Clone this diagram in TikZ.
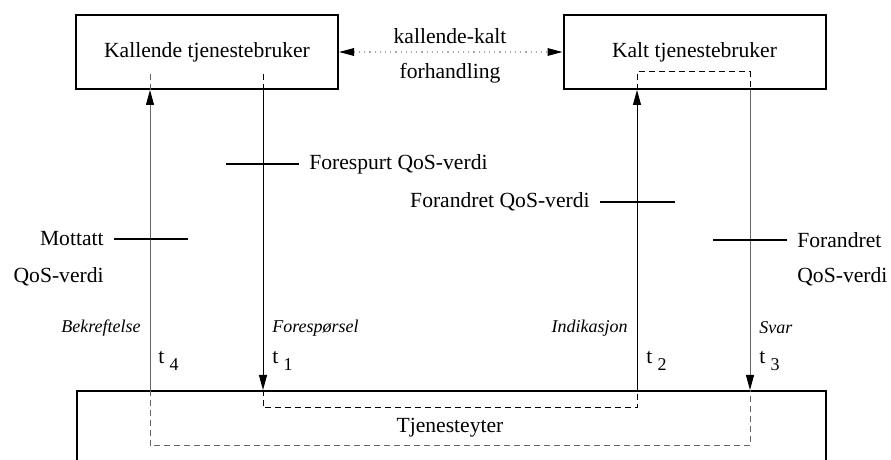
\documentclass[tikz,border=0pt]{standalone}
\usepackage{fontspec}
\setmainfont{Liberation Serif}
\usetikzlibrary{arrows.meta}
\begin{document}
\begin{tikzpicture}[x=0.5pt,y=-0.5pt,
  every node/.style={font=\fontsize{10.8}{13}\selectfont, inner sep=0pt},
  userbox/.style={draw, line width=1pt, minimum width=131pt, minimum height=37pt},
  prim/.style={line width=0.5pt},
  faint/.style={draw=black!60},
  tip/.style={-{Triangle[length=7.5pt,width=4pt,color=black,fill=black]}},
  dashline/.style={line width=0.5pt, dash pattern=on 3pt off 2pt},
  tick/.style={line width=1pt},
  prim label/.style={font=\fontsize{9}{11}\selectfont\itshape},
  tlabel/.style={anchor=west}
]
\newcommand{\tsub}[1]{t\hspace{2.6pt}\raisebox{-3.5pt}{\fontsize{9}{11}\selectfont #1}}
\useasboundingbox (0,0) rectangle (891,460);
\begin{scope}
\clip (0,0) rectangle (891,460);

% service users and service provider
\node[userbox] (kb) at (207,52) {Kallende tjenestebruker};
\node[userbox] (kt) at (694.5,52) {Kalt tjenestebruker};
\node[draw, line width=1pt, anchor=north west, minimum width=374.5pt,
      minimum height=60pt] (sp) at (76,390) {};
\node (spl) at (450,428) {Tjenesteyter};

% negotiation between the users
\draw[draw=black!35, line width=0.6pt, dash pattern=on 0.6pt off 2pt,
      {Triangle[length=7.5pt,width=3.8pt,color=black,fill=black]}-{Triangle[length=7.5pt,width=3.8pt,color=black,fill=black]}]
      (kb.east) -- (kt.west);
\node (neg1) at (450,36) {kallende-kalt};
\node (neg2) at (450,73) {forhandling};

% primitive positions
\coordinate (xa) at (150,0);
\coordinate (xb) at (263,0);
\coordinate (xc) at (637,0);
\coordinate (xd) at (750,0);

% primitives
\draw[prim, faint, tip] (sp.north -| xa) -- (kb.south -| xa);
\draw[prim, tip] (kb.south -| xb) -- (sp.north -| xb);
\draw[prim, tip] (sp.north -| xc) -- (kt.south -| xc);
\draw[prim, faint, tip] (kt.south -| xd) -- (sp.north -| xd);

% internal paths
\draw[dashline, faint] (kb.south -| xa) -- ++(0,-18);
\draw[dashline] (kb.south -| xb) -- ++(0,-18);
\draw[dashline] (kt.south -| xc) -- ++(0,-18) -| (kt.south -| xd);
\draw[dashline] (sp.north -| xb) -- ++(0,18) -| (sp.north -| xc);
\draw[dashline, faint] (sp.north -| xa) -- ++(0,56) -| (sp.north -| xd);

% QoS parameters
\draw[tick] (226,164) coordinate (q1a) -- (299,164) coordinate (q1b);
\node[anchor=west] (q1) at (309,164) {Forespurt QoS-verdi};
\draw[tick] (600,202) coordinate (q2a) -- (675,202) coordinate (q2b);
\node[anchor=east] (q2) at (590,202) {Forandret QoS-verdi};
\draw[tick] (114,239) coordinate (q4a) -- (188,239) coordinate (q4b);
\node[anchor=east] (q4) at (104,239) {Mottatt};
\node[anchor=east] (q4s) at (104,277) {QoS-verdi};
\draw[tick] (713,240) coordinate (q3a) -- (787,240) coordinate (q3b);
\node[anchor=west] (q3) at (797,240) {Forandret};
\node[anchor=west] (q3s) at (797,277) {QoS-verdi};

% primitive names
\node[prim label, anchor=east] (pa) at (141,328) {Bekreftelse};
\node[prim label, anchor=west] (pb) at (272,328) {Forespørsel};
\node[prim label, anchor=east] (pc) at (628,328) {Indikasjon};
\node[prim label, anchor=west] (pd) at (759,328) {Svar};

% time instants
\node[tlabel] (t4) at (158,361) {\tsub{4}};
\node[tlabel] (t1) at (272,361) {\tsub{1}};
\node[tlabel] (t2) at (646,361) {\tsub{2}};
\node[tlabel] (t3) at (759,361) {\tsub{3}};
\end{scope}
\end{tikzpicture}
\end{document}
